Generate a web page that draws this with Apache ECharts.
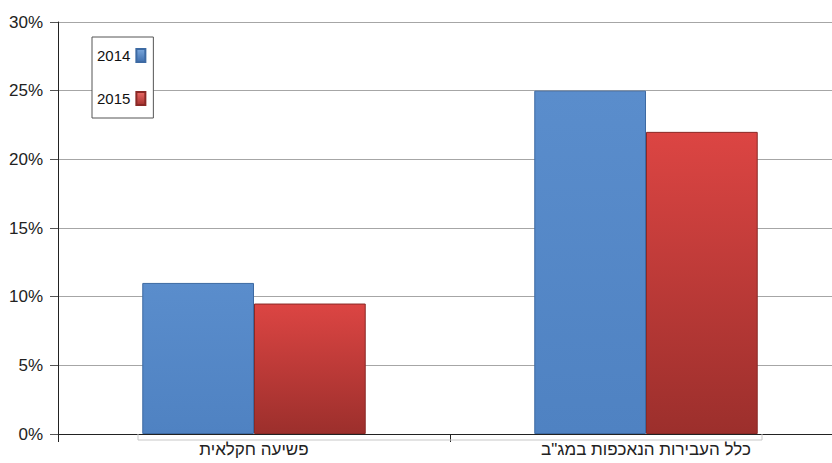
<!DOCTYPE html>
<html><head><meta charset="utf-8">
<script src="https://cdn.jsdelivr.net/npm/echarts@6/dist/echarts.min.js"></script>
<style>html,body{margin:0;padding:0;background:#fff}#c{width:832px;height:463px}</style>
</head><body><div id="c"></div>
<script>
const categories = ['פשיעה חקלאית', 'כלל העבירות הנאכפות במג"ב'];
const seriesNames = ['2014', '2015'];
const values2014 = [11, 25];
const values2015 = [9.5, 22];

const chart = echarts.init(document.getElementById('c'), null, {renderer: 'svg'});
const FONT = 'Liberation Sans';
const blueGrad = new echarts.graphic.LinearGradient(0, 0, 0, 1, [
  {offset: 0, color: '#5a8dcc'}, {offset: 1, color: '#4f82c2'}]);
const redGrad = new echarts.graphic.LinearGradient(0, 0, 0, 1, [
  {offset: 0, color: '#dc4543'}, {offset: 1, color: '#9c2f2c'}]);
const blueIcon = new echarts.graphic.LinearGradient(0, 0, 0, 1, [
  {offset: 0, color: '#7aa7dc'}, {offset: 1, color: '#3f6fae'}]);
const redIcon = new echarts.graphic.LinearGradient(0, 0, 0, 1, [
  {offset: 0, color: '#ec6a66'}, {offset: 1, color: '#a3302d'}]);

chart.setOption({
  animation: false,
  textStyle: {fontFamily: FONT},
  grid: {left: 58, width: 784, top: 22, bottom: 29, containLabel: false, outerBoundsMode: 'none'},
  legend: {
    orient: 'vertical', left: 92, top: 37, align: 'right',
    padding: [11, 7, 12, 5], itemGap: 28,
    itemWidth: 9, itemHeight: 13,
    borderColor: '#555', borderWidth: 1, backgroundColor: '#fff',
    textStyle: {fontFamily: FONT, fontSize: 15, color: '#111', padding: [0, 1, 0, 0]},
    data: [
      {name: seriesNames[0], icon: 'rect', itemStyle: {color: blueIcon}},
      {name: seriesNames[1], icon: 'rect', itemStyle: {color: redIcon}}
    ]
  },
  xAxis: {
    type: 'category', data: categories,
    axisLine: {lineStyle: {color: '#222', width: 1}},
    axisTick: {show: true, length: 8, lineStyle: {color: '#222'}},
    axisLabel: {fontFamily: FONT, fontSize: 17, color: '#222', margin: 7}
  },
  yAxis: {
    type: 'value', min: 0, max: 30, interval: 5,
    axisLine: {show: true, lineStyle: {color: '#222', width: 1}},
    axisTick: {show: true, length: 8, lineStyle: {color: '#555'}},
    axisLabel: {fontFamily: FONT, fontSize: 17, color: '#222', margin: 15, formatter: '{value}%'},
    splitLine: {lineStyle: {color: '#a6a6a6', width: 1}}
  },
  series: [
    {name: seriesNames[0], type: 'bar', data: values2014, barGap: '0%', barCategoryGap: '43%',
     itemStyle: {color: blueGrad, borderColor: '#3d6aa3', borderWidth: 1}},
    {name: seriesNames[1], type: 'bar', data: values2015,
     itemStyle: {color: redGrad, borderColor: '#8a2926', borderWidth: 1}}
  ]
});

// decorative light-gray bracket under the category axis (Excel style)
const xa = chart.convertToPixel({xAxisIndex: 0}, 0);
const xb = chart.convertToPixel({xAxisIndex: 0}, 1);
const y0 = chart.convertToPixel({yAxisIndex: 0}, 0);
chart.setOption({
  graphic: [{
    type: 'polyline', silent: true, z: 1,
    shape: {points: [[xa - 116, y0], [xa - 116, y0 + 6], [xb + 116, y0 + 6], [xb + 116, y0]]},
    style: {stroke: '#c8c8c8', lineWidth: 1, fill: null}
  }]
});
</script></body></html>
